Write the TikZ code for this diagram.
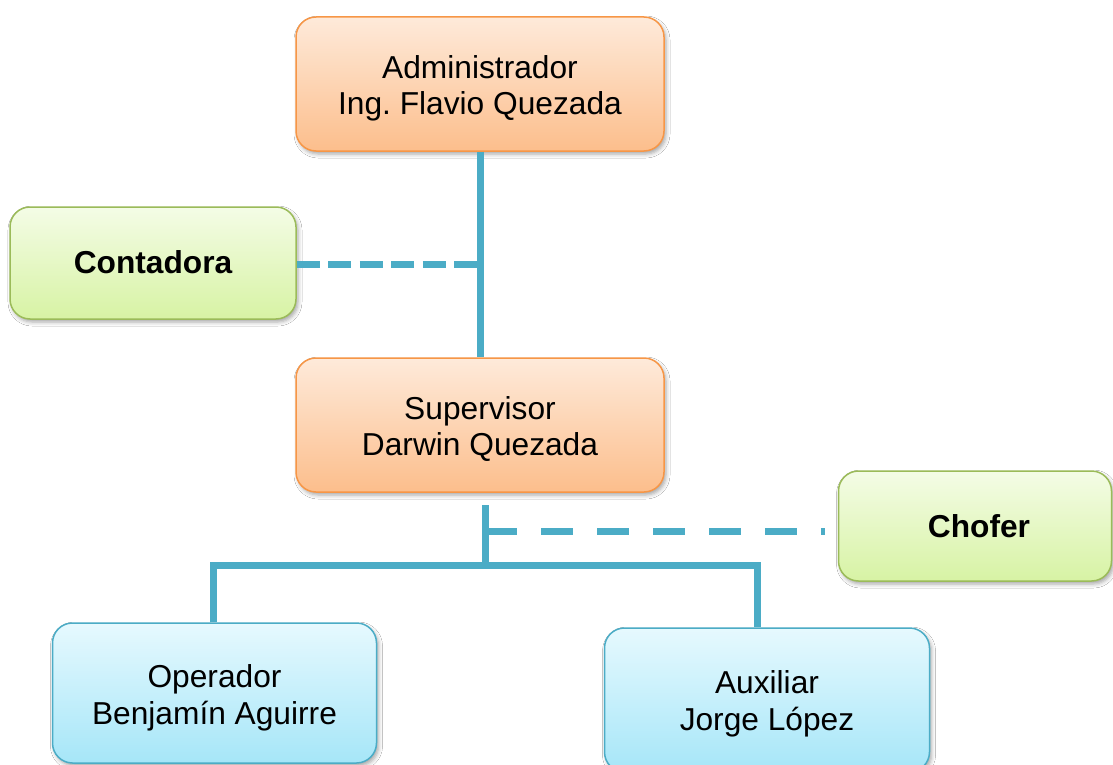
\documentclass[tikz,border=0pt]{standalone}
\usepackage{fontspec}
\setmainfont{Liberation Sans}
\frenchspacing
\usetikzlibrary{shadows.blur}
\definecolor{lineblue}{HTML}{4BACC6}
\definecolor{orangeedge}{HTML}{F79646}
\definecolor{orangetop}{RGB}{254,234,218}
\definecolor{orangebot}{RGB}{252,190,140}
\definecolor{greenedge}{HTML}{9BBB59}
\definecolor{greentop}{RGB}{244,252,230}
\definecolor{greenbot}{RGB}{215,243,164}
\definecolor{blueedge}{HTML}{4BACC6}
\definecolor{bluetop}{RGB}{230,249,254}
\definecolor{bluebot}{RGB}{166,230,248}
\begin{document}
\begin{tikzpicture}[x=1pt,y=-1pt,
  box/.style={rounded corners=20pt, draw, line width=1.5pt, inner sep=0pt,
    blur shadow={shadow xshift=2pt, shadow yshift=-3pt, shadow opacity=35, shadow blur radius=4pt}},
  txt/.style={align=center, inner sep=0pt, font=\fontsize{31.7}{36.5}\selectfont},
  orangebox/.style={box, draw=orangeedge, top color=orangetop, bottom color=orangebot},
  greenbox/.style={box, draw=greenedge, top color=greentop, bottom color=greenbot},
  bluebox/.style={box, draw=blueedge, top color=bluetop, bottom color=bluebot},
  conn/.style={draw=lineblue, line width=7pt},
  connshadow/.style={draw=black, opacity=0.16, line width=7pt, shift={(2pt,-3pt)}},
  dashA/.style={dash pattern=on 23pt off 8.5pt},
  dashB/.style={dash pattern=on 32pt off 24pt},
]
\useasboundingbox (0,0) rectangle (1113,765);
\fill[white] (0,0) rectangle (1113,765);
\clip (0,0) rectangle (1113,765);

% nodes
\node[orangebox, minimum width=368pt, minimum height=134pt,
  label={[txt, yshift=-4.5pt]center:Administrador\\Ing. Flavio Quezada}] (adm) at (480,84) {};
\node[greenbox, minimum width=286pt, minimum height=112pt,
  label={[txt, yshift=1pt, font=\fontsize{31.7}{36.5}\selectfont\bfseries]center:Contadora}] (cont) at (153,263) {};
\node[orangebox, minimum width=368pt, minimum height=134pt,
  label={[txt, yshift=-4pt]center:Supervisor\\Darwin Quezada}] (sup) at (480,425) {};
\node[greenbox, minimum width=273pt, minimum height=110pt,
  label={[txt, xshift=4pt, font=\fontsize{31.7}{36.5}\selectfont\bfseries]center:Chofer}] (chof) at (975,526) {};
\node[bluebox, minimum width=324pt, minimum height=140pt,
  label={[txt, yshift=-5pt]center:Operador\\Benjam\'{\i}n Aguirre}] (oper) at (214.5,693) {};
\node[bluebox, minimum width=325pt, minimum height=144pt,
  label={[txt, yshift=-4pt]center:Auxiliar\\Jorge L\'opez}] (aux) at (767,700) {};

% junction coordinates
\coordinate (jc) at (480,264);
\coordinate (s1) at (485,505);
\coordinate (s2) at (485,565);
\coordinate (jd) at (485,531);
\coordinate (ce) at (825,531);
\coordinate (bl) at (213,565);
\coordinate (br) at (757,565);

% shadows of connectors
\draw[connshadow] (adm.south) -- (sup.north);
\draw[connshadow, dashA] (cont.east |- jc) -- (jc);
\draw[connshadow] (s1) -- (s2);
\draw[connshadow, dashB] (jd) -- (ce);
\draw[connshadow] (oper.north -| bl) -- (bl) -- (br) -- (br |- aux.north);

% connectors
\draw[conn] (adm.south) -- (sup.north);
\draw[conn, dashA] (cont.east |- jc) -- (jc);
\draw[conn] (s1) -- (s2);
\draw[conn, dashB] (jd) -- (ce);
\draw[conn] (oper.north -| bl) -- (bl) -- (br) -- (br |- aux.north);
\end{tikzpicture}
\end{document}
